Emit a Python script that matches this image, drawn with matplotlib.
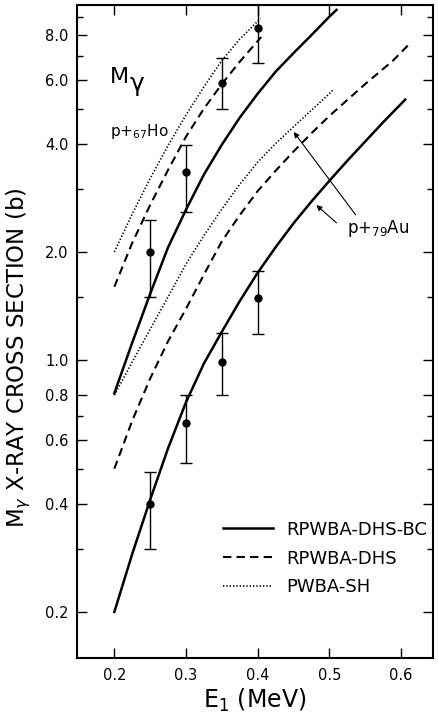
import matplotlib
matplotlib.use('Agg')
import matplotlib.pyplot as plt
from matplotlib.lines import Line2D
from matplotlib.ticker import FixedLocator, FixedFormatter, NullFormatter

plt.rcParams['font.family'] = ['DejaVu Sans']
plt.rcParams['mathtext.fontset'] = 'dejavusans'

# p + 67Ho theory curves (barns)
ho_bc_e = [0.2, 0.225, 0.25, 0.275, 0.3, 0.325, 0.35, 0.375, 0.4, 0.425, 0.45, 0.475, 0.5, 0.51]
ho_bc = [0.81, 1.12, 1.53, 2.06, 2.62, 3.28, 3.97, 4.72, 5.5, 6.33, 7.13, 8.0, 9.0, 9.4]
ho_dhs_e = [0.2, 0.225, 0.25, 0.275, 0.3, 0.325, 0.35, 0.375, 0.4, 0.405]
ho_dhs = [1.6, 2.12, 2.7, 3.38, 4.18, 5.0, 5.85, 6.75, 7.7, 7.9]
ho_sh_e = [0.2, 0.225, 0.25, 0.275, 0.3, 0.325, 0.35, 0.375, 0.404]
ho_sh = [2.0, 2.55, 3.2, 3.95, 4.8, 5.75, 6.8, 7.8, 8.9]

# p + 79Au theory curves
au_bc_e = [0.2, 0.225, 0.25, 0.275, 0.3, 0.325, 0.35, 0.375, 0.4, 0.425, 0.45, 0.475,
           0.5, 0.525, 0.55, 0.575, 0.6, 0.606]
au_bc = [0.20, 0.29, 0.41, 0.57, 0.765, 0.98, 1.2, 1.46, 1.75, 2.06, 2.4, 2.76,
         3.15, 3.58, 4.05, 4.58, 5.15, 5.3]
au_dhs_e = [0.2, 0.225, 0.25, 0.275, 0.3, 0.325, 0.35, 0.375, 0.4, 0.425, 0.45, 0.475,
            0.5, 0.55, 0.589, 0.61]
au_dhs = [0.50, 0.68, 0.89, 1.13, 1.39, 1.73, 2.14, 2.53, 2.95, 3.36, 3.8, 4.27,
          4.77, 5.85, 6.8, 7.5]
au_sh_e = [0.2, 0.225, 0.25, 0.275, 0.3, 0.325, 0.35, 0.375, 0.4, 0.425, 0.45, 0.475,
           0.5, 0.506]
au_sh = [0.80, 0.99, 1.22, 1.5, 1.85, 2.22, 2.63, 3.08, 3.55, 4.0, 4.45, 4.95, 5.5, 5.66]

# measured points
exp_e = [0.25, 0.3, 0.35, 0.4]
ho_y = [2.0, 3.33, 5.9, 8.4]
ho_lo = [1.5, 2.58, 4.98, 6.7]
ho_hi = [2.46, 3.97, 6.9, 10.5]
au_y = [0.40, 0.67, 0.99, 1.49]
au_lo = [0.30, 0.52, 0.80, 1.18]
au_hi = [0.49, 0.80, 1.19, 1.77]

xticks = [0.2, 0.3, 0.4, 0.5, 0.6]
yticks = [0.2, 0.4, 0.6, 0.8, 1.0, 2.0, 4.0, 6.0, 8.0]
ylabels = ['0.2', '0.4', '0.6', '0.8', '1.0', '2.0', '4.0', '6.0', '8.0']
yminor = [0.3, 0.5, 0.7, 1.5, 3.0, 5.0, 7.0, 9.0]

fig = plt.figure(figsize=(4.38, 7.17), dpi=100)
ax = fig.add_axes([0.176, 0.0823, 0.813, 0.9107])
ax.set_yscale('log')

solid = dict(color='black', lw=1.8)
dashed = dict(color='black', lw=1.5, dashes=(4, 2.5))
dotted = dict(color='black', lw=1.2, dashes=(0.8, 1.2))

ax.plot(ho_bc_e, ho_bc, **solid)
ax.plot(ho_dhs_e, ho_dhs, **dashed)
ax.plot(ho_sh_e, ho_sh, **dotted)
ax.plot(au_bc_e, au_bc, **solid)
ax.plot(au_dhs_e, au_dhs, **dashed)
ax.plot(au_sh_e, au_sh, **dotted)

for ys, lo, hi in [(ho_y, ho_lo, ho_hi), (au_y, au_lo, au_hi)]:
    err = [[y - l for y, l in zip(ys, lo)], [h - y for y, h in zip(ys, hi)]]
    ax.errorbar(exp_e, ys, yerr=err, fmt='o', color='black', ms=5,
                elinewidth=1.0, capsize=4.5, capthick=1.0)

ax.set_xlim(0.148, 0.645)
ax.set_ylim(0.149, 9.7)

ax.xaxis.set_major_locator(FixedLocator(xticks))
ax.xaxis.set_major_formatter(FixedFormatter(['0.2', '0.3', '0.4', '0.5', '0.6']))
ax.yaxis.set_major_locator(FixedLocator(yticks))
ax.yaxis.set_major_formatter(FixedFormatter(ylabels))
ax.yaxis.set_minor_locator(FixedLocator(yminor))
ax.yaxis.set_minor_formatter(NullFormatter())
ax.xaxis.set_minor_locator(FixedLocator([]))

ax.tick_params(which='both', direction='in', top=True, right=True, width=1.0,
               labelsize=10.5)
ax.tick_params(which='major', length=7)
ax.tick_params(which='minor', length=4.5)
ax.tick_params(axis='x', pad=7)
ax.tick_params(axis='y', pad=6)
for s in ax.spines.values():
    s.set_linewidth(1.5)

ax.set_xlabel(r'E$_1$ (MeV)', fontsize=17, labelpad=3)
ax.set_ylabel(r'M$_\gamma$ X-RAY CROSS SECTION (b)', fontsize=16.5)
ax.yaxis.set_label_coords(-0.125, 0.46)

ax.text(0.1944, 6.14, 'M', fontsize=16, va='center', ha='left')
ax.text(0.221, 5.85, 'γ', fontsize=18, va='center', ha='left')
ax.text(0.194, 4.2, r'p+$_{67}$Ho', fontsize=11, va='baseline', ha='left')
ax.text(0.525, 2.25, r'p+$_{79}$Au', fontsize=12, va='baseline', ha='left')

arrow = dict(arrowstyle='-|>', color='black', lw=0.8, mutation_scale=8)
ax.annotate('', xy=(0.448, 4.37), xytext=(0.539, 2.5), arrowprops=arrow)
ax.annotate('', xy=(0.479, 2.73), xytext=(0.513, 2.38), arrowprops=arrow)

handles = [Line2D([], [], **solid), Line2D([], [], **dashed), Line2D([], [], **dotted)]
ax.legend(handles, ['RPWBA-DHS-BC', 'RPWBA-DHS', 'PWBA-SH'], loc='upper left',
          bbox_to_anchor=(0.385, 0.224), frameon=False, fontsize=13,
          handlelength=2.75, handletextpad=0.72, labelspacing=0.6, borderpad=0)

fig.savefig('out.png', dpi=100)
